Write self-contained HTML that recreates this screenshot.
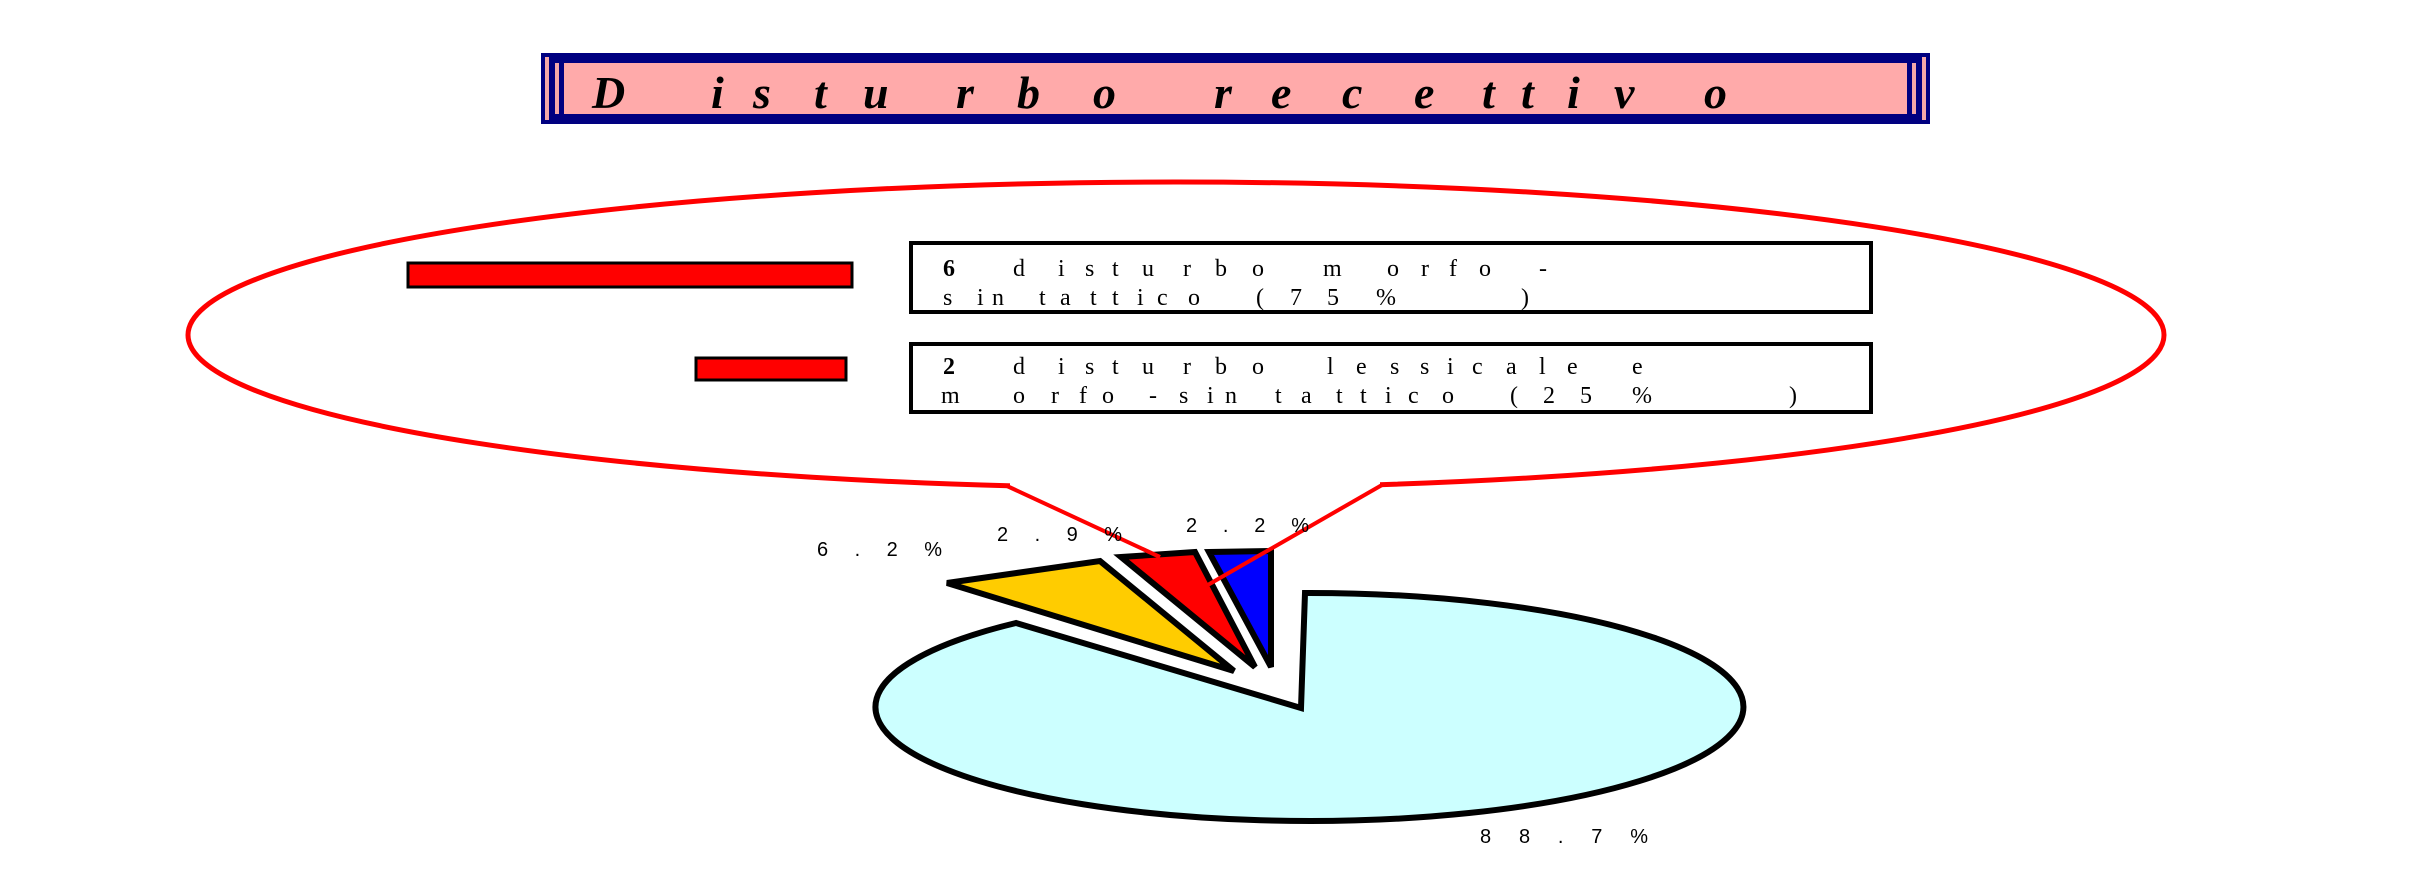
<!DOCTYPE html>
<html><head><meta charset="utf-8"><style>
html,body{margin:0;padding:0;background:#fff;}
svg{display:block;}
</style></head><body>
<svg width="2430" height="878" viewBox="0 0 2430 878" xmlns="http://www.w3.org/2000/svg">
<!-- title -->
<rect x="541" y="53" width="1389" height="71" fill="#000080"/>
<rect x="545" y="57" width="4" height="63" fill="#f4a8a8"/>
<rect x="1922" y="57" width="4" height="63" fill="#f4a8a8"/>
<rect x="555" y="63" width="4" height="51" fill="#f4a8a8"/>
<rect x="1912" y="63" width="4" height="51" fill="#f4a8a8"/>
<rect x="564" y="63" width="1343" height="51" fill="#ffaaaa"/>
<g font-family="Liberation Serif, serif" font-style="italic" font-weight="bold" font-size="46" fill="#000">
<text x="592" y="108">D</text><text x="711" y="108">i</text><text x="753" y="108">s</text><text x="814" y="108">t</text><text x="863" y="108">u</text><text x="956" y="108">r</text><text x="1017" y="108">b</text><text x="1093" y="108">o</text><text x="1214" y="108">r</text><text x="1271" y="108">e</text><text x="1342" y="108">c</text><text x="1414" y="108">e</text><text x="1482" y="108">t</text><text x="1521" y="108">t</text><text x="1567" y="108">i</text><text x="1614" y="108">v</text><text x="1704" y="108">o</text>
</g>

<!-- pie -->
<path d="M1305 593 L1301 708 L1016 623 A434 114 0 1 0 1305 593 Z" fill="#ccffff" stroke="#000" stroke-width="6" stroke-linejoin="miter"/>
<polygon points="947,583 1100,561 1234,671" fill="#ffcc00" stroke="#000" stroke-width="6"/>
<polygon points="1121,557 1195,552 1255,667" fill="#ff0000" stroke="#000" stroke-width="6"/>
<polygon points="1209,552 1271,551 1271,667" fill="#0000ff" stroke="#000" stroke-width="6"/>

<!-- balloon -->
<ellipse cx="1176" cy="335" rx="988" ry="153" fill="#fff" stroke="#ff0000" stroke-width="5"/>
<rect x="1010" y="470" width="370" height="25" fill="#fff"/>
<polyline points="1007,486 1160,557" fill="none" stroke="#ff0000" stroke-width="4"/>
<polyline points="1382,485 1206,586" fill="none" stroke="#ff0000" stroke-width="4"/>

<!-- bars -->
<rect x="408" y="263" width="444" height="24" fill="#ff0000" stroke="#000" stroke-width="3"/>
<rect x="696" y="358" width="150" height="22" fill="#ff0000" stroke="#000" stroke-width="3"/>

<!-- text boxes -->
<rect x="911" y="243" width="960" height="69" fill="#fff" stroke="#000" stroke-width="4"/>
<rect x="911" y="344" width="960" height="68" fill="#fff" stroke="#000" stroke-width="4"/>
<g font-family="Liberation Serif, serif" font-size="24" fill="#000">
<text y="276" x="943"><tspan font-weight="bold">6</tspan></text>
<text y="276" x="1013 1058 1085 1112 1142 1183 1215 1252 1323 1387 1421 1449 1479 1539">disturbomorfo-</text>
<text y="305" x="943 977 992 1039 1060 1090 1112 1137 1157 1188 1256 1290 1327 1376 1521">sintattico(75%)</text>
<text y="374" x="943"><tspan font-weight="bold">2</tspan></text>
<text y="374" x="1013 1058 1085 1112 1142 1183 1215 1252 1327 1356 1390 1420 1447 1472 1506 1539 1567 1632">disturbolessicalee</text>
<text y="403" x="941 1013 1051 1079 1102 1149 1179 1207 1225 1275 1301 1336 1360 1385 1408 1442 1510 1543 1580 1632 1789">morfo-sintattico(25%)</text>
</g>

<!-- labels -->
<g font-family="Liberation Sans, sans-serif" font-size="20" fill="#000">
<text x="817" y="556" textLength="125" lengthAdjust="spacing">6 . 2 %</text>
<text x="997" y="541" textLength="125" lengthAdjust="spacing">2 . 9 %</text>
<text x="1186" y="532" textLength="123" lengthAdjust="spacing">2 . 2 %</text>
<text x="1480" y="843" textLength="168" lengthAdjust="spacing">8 8 . 7 %</text>
</g>
</svg>
</body></html>
